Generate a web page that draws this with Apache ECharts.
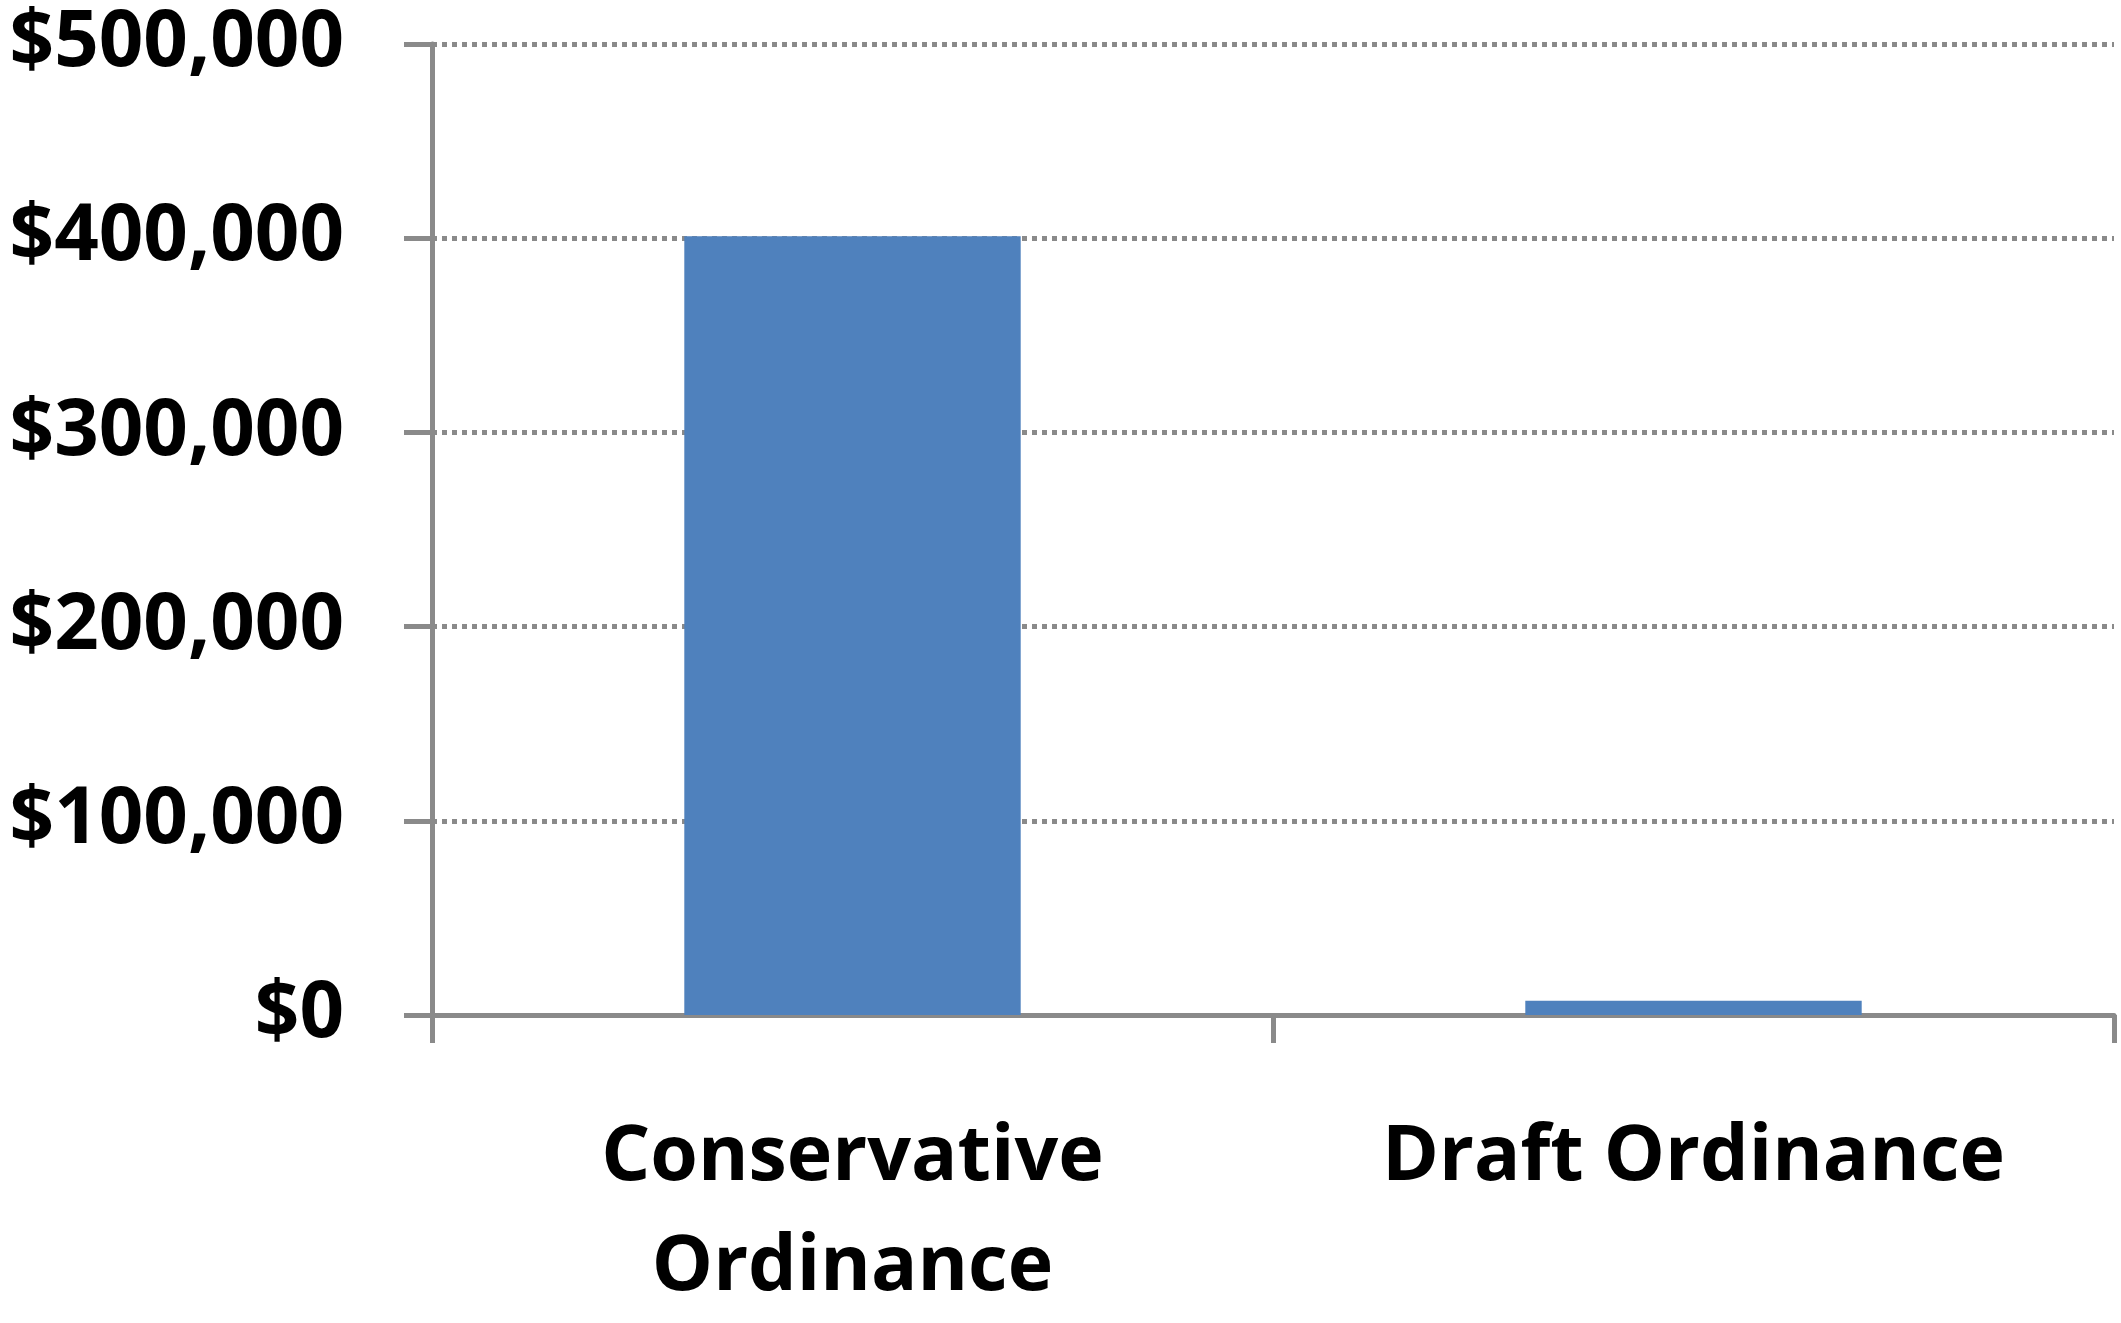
<!DOCTYPE html>
<html>
<head>
<meta charset="utf-8">
<script src="https://cdn.jsdelivr.net/npm/echarts@6/dist/echarts.min.js"></script>
<style>
html,body{margin:0;padding:0;background:#fff;overflow:hidden;}
#chart{width:2121px;height:1323px;}
</style>
</head>
<body>
<div id="chart"></div>
<script>
const categories = ['Conservative\nOrdinance', 'Draft Ordinance'];
const values = [401000, 7400];
const yTicks = [0, 100000, 200000, 300000, 400000, 500000];

const chart = echarts.init(document.getElementById('chart'));
const fontFam = '"Open Sans", Lato, sans-serif';
const gray = '#8a8a8a';
chart.setOption({
  animation: false,
  grid: {left: 432, right: 7, top: 44, bottom: 293, containLabel: false},
  xAxis: {
    type: 'category',
    data: categories,
    axisLine: {lineStyle: {color: gray, width: 5}},
    axisTick: {show: true, length: 28, lineStyle: {color: gray, width: 5}},
    axisLabel: {
      color: '#000', fontFamily: fontFam, fontWeight: 'bold', fontSize: 77,
      lineHeight: 110, margin: 88, interval: 0
    }
  },
  yAxis: {
    type: 'value',
    min: 0, max: yTicks[yTicks.length - 1], interval: yTicks[1] - yTicks[0],
    axisLine: {show: true, lineStyle: {color: gray, width: 5}},
    axisTick: {show: true, length: 28, lineStyle: {color: gray, width: 5}},
    axisLabel: {
      color: '#000', fontFamily: fontFam, fontWeight: 'bold', fontSize: 78,
      margin: 88,
      formatter: v => '$' + v.toLocaleString('en-US')
    },
    splitLine: {show: true, lineStyle: {color: gray, width: 5, type: [5, 5]}}
  },
  series: [{
    type: 'bar',
    data: values,
    barWidth: '40%',
    itemStyle: {color: '#4f81bd'}
  }]
});
</script>
</body>
</html>
